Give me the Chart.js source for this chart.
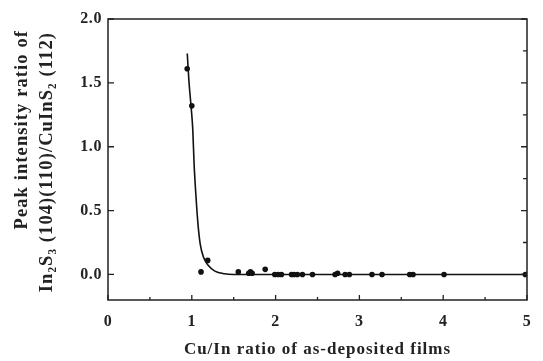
<!DOCTYPE html>
<html><head><meta charset="utf-8">
<script src="https://cdn.jsdelivr.net/npm/chart.js@4/dist/chart.umd.min.js"></script>
<style>html,body{margin:0;padding:0;background:#fff}#wrap{width:543px;height:361px;position:relative}</style>
</head><body><div id="wrap"><canvas id="c"></canvas></div>
<script>
// measured points: Cu/In ratio vs peak intensity ratio
const cuInRatio = [0.945, 1.00, 1.11, 1.19, 1.555, 1.68, 1.70, 1.72, 1.876, 1.99, 2.03, 2.07, 2.19, 2.22, 2.26, 2.32, 2.44, 2.71, 2.74, 2.83, 2.88, 3.15, 3.27, 3.60, 3.64, 4.01, 4.98];
const peakRatio = [1.61, 1.32, 0.02, 0.11, 0.02, 0.01, 0.02, 0.01, 0.04, 0.0, 0.0, 0.0, 0.0, 0.0, 0.0, 0.0, 0.0, 0.0, 0.01, 0.0, 0.0, 0.0, 0.0, 0.0, 0.0, 0.0, 0.0];
// fitted curve
const fitX = [0.946, 0.965, 0.992, 1.012, 1.027, 1.05, 1.073, 1.10, 1.14, 1.198, 1.275, 1.39, 1.5, 5.0];
const fitY = [1.73, 1.52, 1.31, 1.13, 0.87, 0.61, 0.40, 0.24, 0.135, 0.07, 0.026, 0.005, 0.0, 0.0];
const xTickValues = [0, 1, 2, 3, 4, 5];
const yTickValues = [0, 0.5, 1.0, 1.5, 2.0];
const xTitle = 'Cu/In ratio of as-deposited films';
const yTitle = ['Peak intensity ratio of', 'In\u2082S\u2083 (104)(110)/CuInS\u2082 (112)'];

const FONT = "'Liberation Serif', 'Times New Roman', serif";

const framePlugin = {
  id: 'frame',
  beforeDraw(chart) { chart.ctx.letterSpacing = '0.6px'; },
  afterDraw(chart) {
    const {ctx, chartArea: a, scales: {x, y}} = chart;
    ctx.save();
    ctx.strokeStyle = '#222';
    ctx.lineWidth = 1.5;
    ctx.strokeRect(a.left, a.top, a.right - a.left, a.bottom - a.top);
    ctx.lineWidth = 1.3;
    ctx.beginPath();
    for (let v = 0; v <= 5.001; v += 0.5) {
      const px = x.getPixelForValue(v);
      const L = Math.abs(v - Math.round(v)) < 1e-6 ? 5 : 3;
      ctx.moveTo(px, a.bottom); ctx.lineTo(px, a.bottom - L);
    }
    for (let v = 0; v <= 2.001; v += 0.25) {
      const py = y.getPixelForValue(v);
      const major = Math.abs(v * 2 - Math.round(v * 2)) < 1e-6;
      if (major) { ctx.moveTo(a.left, py); ctx.lineTo(a.left + 6, py); }
      ctx.moveTo(a.right, py); ctx.lineTo(a.right - (major ? 6 : 4), py);
    }
    ctx.stroke();
    // axis titles
    ctx.fillStyle = '#222';
    ctx.letterSpacing = '1px';
    ctx.font = "bold 17px " + FONT;
    ctx.textAlign = 'center';
    ctx.textBaseline = 'middle';
    ctx.fillText(xTitle, (a.left + a.right) / 2, 350);
    ctx.font = "bold 18.5px " + FONT;
    ctx.letterSpacing = '1.1px';
    ctx.textAlign = 'right';
    const lineX = [22, 47];
    const endY = [30, 32];
    yTitle.forEach((t, i) => {
      ctx.save();
      ctx.translate(lineX[i], endY[i]);
      ctx.rotate(-Math.PI / 2);
      ctx.fillText(t, 0, 0);
      ctx.restore();
    });
    ctx.restore();
  }
};

new Chart(document.getElementById('c'), {
  type: 'scatter',
  data: {
    datasets: [
      {
        type: 'line',
        data: fitX.map((v, i) => ({x: v, y: fitY[i]})),
        borderColor: '#111', borderWidth: 1.6, pointRadius: 0,
        cubicInterpolationMode: 'monotone', fill: false
      },
      {
        data: cuInRatio.map((v, i) => ({x: v, y: peakRatio[i]})),
        backgroundColor: '#111', borderColor: '#111', pointRadius: 2.8, borderWidth: 0
      }
    ]
  },
  options: {
    responsive: true, maintainAspectRatio: false, animation: false,
    layout: {padding: {left: 0, right: 6, top: 19, bottom: 0}},
    plugins: {legend: {display: false}, tooltip: {enabled: false}},
    scales: {
      x: {
        type: 'linear', min: 0, max: 5,
        afterBuildTicks: s => { s.ticks = xTickValues.map(v => ({value: v})); },
        afterFit: s => { s.height = 61; },
        grid: {display: false, drawTicks: false},
        border: {display: false},
        ticks: {padding: 12, color: '#222', font: {family: FONT, size: 16, weight: 'bold'}, callback: v => String(v)},
        title: {display: false}
      },
      y: {
        type: 'linear', min: -0.2, max: 2.0,
        afterBuildTicks: s => { s.ticks = yTickValues.map(v => ({value: v})); },
        afterFit: s => { s.width = 108; },
        grid: {display: false, drawTicks: false},
        border: {display: false},
        ticks: {padding: 6, color: '#222', font: {family: FONT, size: 16, weight: 'bold'}, callback: v => v.toFixed(1)},
        title: {display: false}
      }
    }
  },
  plugins: [framePlugin]
});
</script>
</body></html>
